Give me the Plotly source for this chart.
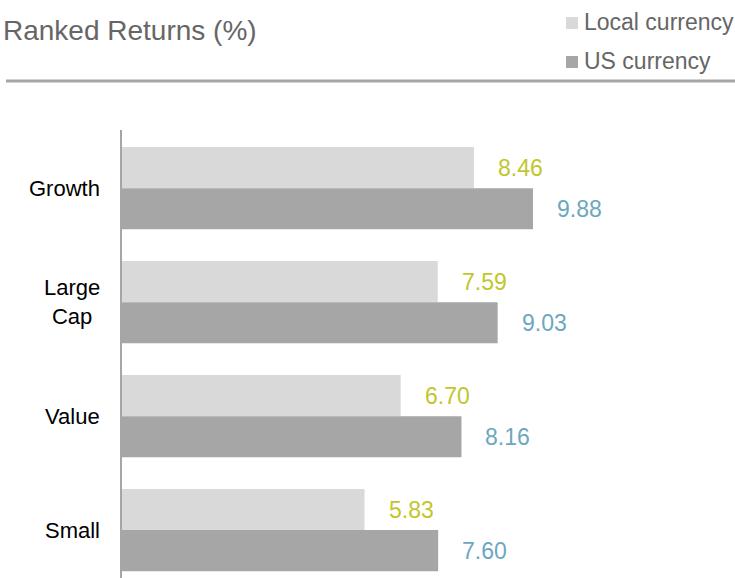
import plotly.graph_objects as go

categories = ["Growth", "Large Cap", "Value", "Small"]
category_labels = ["Growth", "Large<br>Cap", "Value", "Small"]
local_currency = [8.46, 7.59, 6.70, 5.83]
us_currency = [9.88, 9.03, 8.16, 7.60]
series_names = ["Local currency", "US currency"]

FONT = "Liberation Sans, Arial, sans-serif"
W, H = 735, 578
ML, MT, MR, MB = 122, 130, 0, 0
PW, PH = W - ML - MR, H - MT - MB
C_LOCAL, C_US = "#d9d9d9", "#a6a6a6"
C_LOCAL_TXT, C_US_TXT = "#c2c62d", "#6ca7c0"

def px_x(px):
    return (px - ML) / PW

def px_y(py):
    return 1 - (py - MT) / PH

fig = go.Figure()
fig.add_trace(go.Bar(y=categories, x=local_currency, orientation="h", name=series_names[0],
                     marker=dict(color=C_LOCAL, line=dict(width=0)), showlegend=False,
                     hoverinfo="x+name"))
fig.add_trace(go.Bar(y=categories, x=us_currency, orientation="h", name=series_names[1],
                     marker=dict(color=C_US, line=dict(width=0)), showlegend=False,
                     hoverinfo="x+name"))

annotations = []
for cat, lab, lv, uv in zip(categories, category_labels, local_currency, us_currency):
    annotations.append(dict(x=lv, y=cat, xref="x", yref="y", text=f"{lv:.2f}", showarrow=False,
                            xanchor="left", yanchor="middle", xshift=22, yshift=20.5,
                            font=dict(family=FONT, size=23, color=C_LOCAL_TXT)))
    annotations.append(dict(x=uv, y=cat, xref="x", yref="y", text=f"{uv:.2f}", showarrow=False,
                            xanchor="left", yanchor="middle", xshift=22, yshift=-20.5,
                            font=dict(family=FONT, size=23, color=C_US_TXT)))
    annotations.append(dict(x=px_x(102), y=cat, xref="paper", yref="y", text=lab, showarrow=False,
                            xanchor="right", yanchor="middle", align="center",
                            font=dict(family=FONT, size=22, color="#000000")))

# legend
legend_rows = [(series_names[0], C_LOCAL, 22), (series_names[1], C_US, 61)]
shapes = []
for name, col, yc in legend_rows:
    annotations.append(dict(x=px_x(582), y=px_y(yc), xref="paper", yref="paper", text=name,
                            showarrow=False, xanchor="left", yanchor="middle",
                            font=dict(family=FONT, size=23, color="#666666")))
    shapes.append(dict(type="rect", xref="paper", yref="paper", x0=px_x(566), x1=px_x(578),
                       y0=px_y(yc + 7), y1=px_y(yc - 5), fillcolor=col, line=dict(width=0)))

shapes.append(dict(type="line", xref="paper", yref="paper", x0=px_x(6), x1=1,
                   y0=px_y(81), y1=px_y(81), line=dict(color="#a6a6a6", width=3)))

fig.update_layout(
    width=W, height=H,
    margin=dict(l=ML, r=MR, t=MT, b=MB, pad=0),
    paper_bgcolor="white", plot_bgcolor="white",
    barmode="group", bargap=0.28, bargroupgap=0,
    title=dict(text="Ranked Returns (%)", xref="container", yref="container",
               x=3 / W, y=1 - 30 / H, xanchor="left", yanchor="middle",
               font=dict(family=FONT, size=28, color="#666666")),
    xaxis=dict(range=[0, PW / 41.6], showgrid=False, zeroline=False, showticklabels=False,
               showline=False, fixedrange=True),
    yaxis=dict(type="category", categoryorder="array", categoryarray=categories,
               range=[3.42, -0.51], showgrid=False, zeroline=False, showticklabels=False,
               showline=True, linecolor="#a6a6a6", linewidth=2, fixedrange=True),
    annotations=annotations, shapes=shapes,
    showlegend=False,
)

fig.write_html("out.html", config={"displayModeBar": False},
               post_script="document.body.style.margin='0';document.body.style.overflow='hidden';")
